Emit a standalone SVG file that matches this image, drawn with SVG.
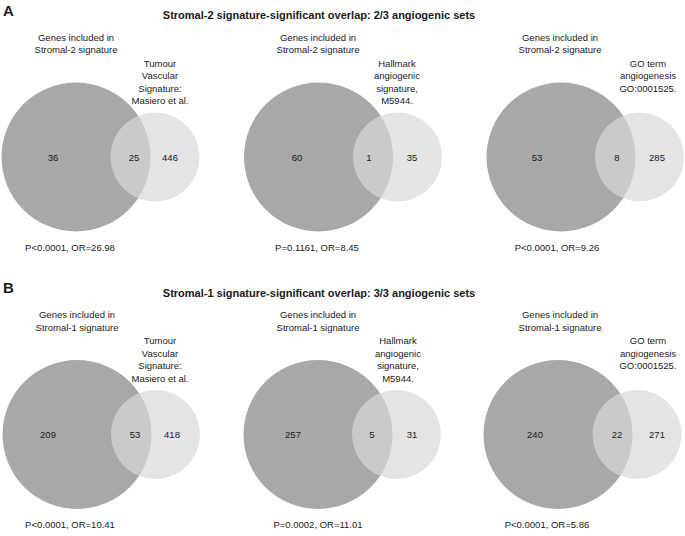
<svg xmlns="http://www.w3.org/2000/svg" width="685" height="536" viewBox="0 0 685 536">
<style>
text{font-family:"Liberation Sans",Arial,sans-serif;fill:#1a1a1a;}
.t{font-size:9.5px;text-anchor:middle;}
.h{font-size:11px;font-weight:bold;text-anchor:middle;}
.p{font-size:15px;font-weight:bold;}
.big{fill:#a8a8a8;}
.sm{fill:#d9d9d9;fill-opacity:0.7;}
</style>
<rect width="685" height="536" fill="#fff"/>
<g id="panelA">
<text class="p" x="3" y="15.5">A</text>
<text class="h" x="319" y="19">Stromal-2 signature-significant overlap: 2/3 angiogenic sets</text>
<g id="A1">
<circle class="big" cx="76" cy="157" r="74.5"/>
<circle class="sm" cx="155" cy="157" r="44.5"/>
<text class="t" x="76" y="40.5">Genes included in</text>
<text class="t" x="76" y="53">Stromal-2 signature</text>
<text class="t" x="160" y="66.5">Tumour</text>
<text class="t" x="160" y="79">Vascular</text>
<text class="t" x="160" y="91.5">Signature:</text>
<text class="t" x="160" y="104">Masiero et al.</text>
<text class="t" x="53" y="160.5">36</text>
<text class="t" x="134" y="160.5">25</text>
<text class="t" x="170" y="160.5">446</text>
<text class="t" x="70" y="251">P&lt;0.0001, OR=26.98</text>
</g>
<g id="A2">
<circle class="big" cx="318.5" cy="157" r="74.5"/>
<circle class="sm" cx="397.5" cy="157" r="44.5"/>
<text class="t" x="318" y="40.5">Genes included in</text>
<text class="t" x="318" y="53">Stromal-2 signature</text>
<text class="t" x="397" y="66.5">Hallmark</text>
<text class="t" x="397" y="79">angiogenic</text>
<text class="t" x="397" y="91.5">signature,</text>
<text class="t" x="397" y="104">M5944.</text>
<text class="t" x="297" y="160.5">60</text>
<text class="t" x="369" y="160.5">1</text>
<text class="t" x="412" y="160.5">35</text>
<text class="t" x="317" y="251">P=0.1161, OR=8.45</text>
</g>
<g id="A3">
<circle class="big" cx="561" cy="157" r="74.5"/>
<circle class="sm" cx="639.5" cy="157" r="44.5"/>
<text class="t" x="560" y="40.5">Genes included in</text>
<text class="t" x="560" y="53">Stromal-2 signature</text>
<text class="t" x="648" y="66.5">GO term</text>
<text class="t" x="648" y="79">angiogenesis</text>
<text class="t" x="648" y="91.5">GO:0001525.</text>
<text class="t" x="537" y="160.5">53</text>
<text class="t" x="617" y="160.5">8</text>
<text class="t" x="657" y="160.5">285</text>
<text class="t" x="557" y="251">P&lt;0.0001, OR=9.26</text>
</g>
</g>
<g id="panelB">
<text class="p" x="3" y="293">B</text>
<text class="h" x="319" y="296.5">Stromal-1 signature-significant overlap: 3/3 angiogenic sets</text>
<g id="B1">
<circle class="big" cx="77" cy="434.5" r="74.5"/>
<circle class="sm" cx="155.5" cy="434.5" r="44.5"/>
<text class="t" x="77" y="318">Genes included in</text>
<text class="t" x="77" y="330.5">Stromal-1 signature</text>
<text class="t" x="160" y="344">Tumour</text>
<text class="t" x="160" y="356.5">Vascular</text>
<text class="t" x="160" y="369">Signature:</text>
<text class="t" x="160" y="381.5">Masiero et al.</text>
<text class="t" x="48" y="438">209</text>
<text class="t" x="135" y="438">53</text>
<text class="t" x="172" y="438">418</text>
<text class="t" x="70" y="527.5">P&lt;0.0001, OR=10.41</text>
</g>
<g id="B2">
<circle class="big" cx="318" cy="434.5" r="74.5"/>
<circle class="sm" cx="396.5" cy="434.5" r="44.5"/>
<text class="t" x="318" y="318">Genes included in</text>
<text class="t" x="318" y="330.5">Stromal-1 signature</text>
<text class="t" x="398" y="344">Hallmark</text>
<text class="t" x="398" y="356.5">angiogenic</text>
<text class="t" x="398" y="369">signature,</text>
<text class="t" x="398" y="381.5">M5944.</text>
<text class="t" x="293" y="438">257</text>
<text class="t" x="372" y="438">5</text>
<text class="t" x="412" y="438">31</text>
<text class="t" x="318" y="527.5">P=0.0002, OR=11.01</text>
</g>
<g id="B3">
<circle class="big" cx="558" cy="434.5" r="74.5"/>
<circle class="sm" cx="637" cy="434.5" r="44.5"/>
<text class="t" x="560" y="318">Genes included in</text>
<text class="t" x="560" y="330.5">Stromal-1 signature</text>
<text class="t" x="648" y="344">GO term</text>
<text class="t" x="648" y="356.5">angiogenesis</text>
<text class="t" x="648" y="369">GO:0001525.</text>
<text class="t" x="535" y="438">240</text>
<text class="t" x="617" y="438">22</text>
<text class="t" x="657" y="438">271</text>
<text class="t" x="547" y="527.5">P&lt;0.0001, OR=5.86</text>
</g>
</g>
</svg>
